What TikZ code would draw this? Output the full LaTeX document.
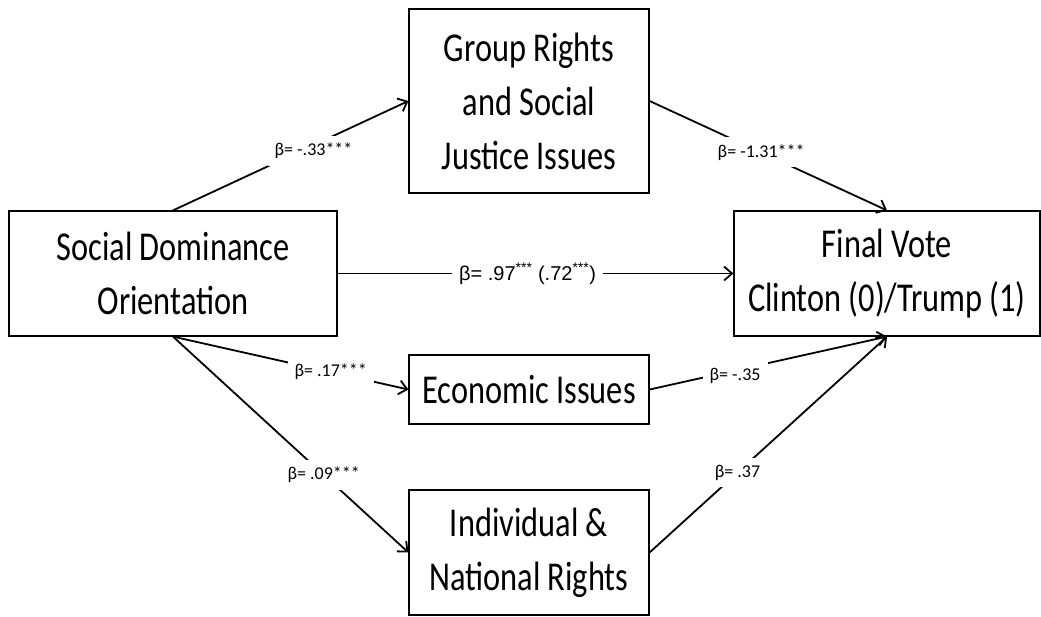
\documentclass[tikz,border=0pt]{standalone}
\usepackage{fontspec}
\newfontfamily\boxfont{Carlito}[FakeStretch=0.79]
\newfontfamily\lblfont{Carlito}
\newfontfamily\arialfont{Liberation Sans}
\usetikzlibrary{arrows.meta}

\begin{document}
\begin{tikzpicture}[>={Straight Barb[length=8pt,width=14pt]},x=1pt,y=-1pt,
  var/.style={draw,line width=1.2pt,inner sep=0pt,align=center,
    font=\boxfont\fontsize{41}{54}\selectfont},
  link/.style={line width=1.8pt},
  coef/.style={fill=white,inner sep=7pt,font=\lblfont\fontsize{18}{20}\selectfont}]
\useasboundingbox (0,0) rectangle (1041,616);
%%
%% variables
  \node (sdo) at (173,273.5) [var,minimum width=328pt,minimum height=125pt] {Social Dominance\\Orientation};
  \node (grp) at (529,101) [var,minimum width=240pt,minimum height=184pt] {Group Rights\\and Social\\Justice Issues};
  \node (eco) at (529,389.5) [var,minimum width=240pt,minimum height=69pt] {Economic Issues};
  \node (ind) at (529,552.5) [var,minimum width=240pt,minimum height=125pt] {Individual \&\\National Rights};
  \node (fin) at (887,273.5) [var,minimum width=306pt,minimum height=125pt] {Final Vote\\Clinton (0)/Trump (1)};

%% paths
  \draw[link,->] (sdo.north) -- node[coef,pos=0.58,xshift=4pt,yshift=-4pt] {β= -.33***} (grp.west);
  \draw[link,->] (grp.east) -- node[coef,pos=0.47] {β= -1.31***} (fin.north);
  \draw[link,->] (sdo.east) -- node[coef,pos=0.48,font=\arialfont\fontsize{20}{22}\selectfont]
    {β= .97\textsuperscript{***} (.72\textsuperscript{***})} (fin.west);
  \draw[link,->] (sdo.south) -- node[coef,pos=0.67] {β= .17***} (eco.west);
  \draw[link,->] (sdo.south) -- node[coef,pos=0.64] {β= .09***} (ind.west);
  \draw[link,->] (eco.east) -- node[coef,pos=0.36,yshift=-5pt] {β= -.35} (fin.south);
  \draw[link,->] (ind.east) -- node[coef,pos=0.37] {β= .37} (fin.south);
%
\end{tikzpicture}
\end{document}
